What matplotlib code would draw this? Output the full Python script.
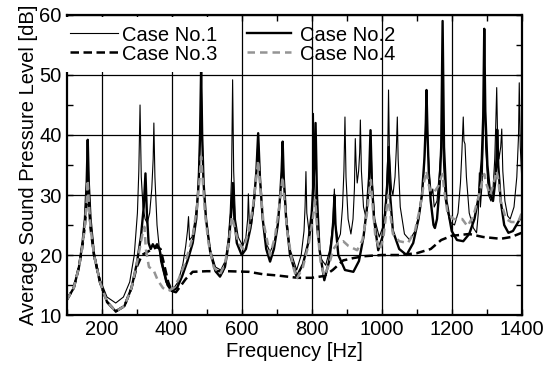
import matplotlib
matplotlib.use("Agg")
import matplotlib.pyplot as plt
from matplotlib.ticker import MultipleLocator

plt.rcParams["font.family"] = ["Liberation Sans", "DejaVu Sans"]

# (frequency [Hz], level [dB])
case1 = [
    (100, 12.5), (120, 14.5), (135, 18), (145, 22), (152, 26), (157, 32), (160, 39),
    (163, 32), (168, 26), (178, 20.5), (195, 16), (215, 13), (240, 12), (262, 13),
    (280, 15.5), (293, 20), (302, 27), (306, 34), (309.5, 45), (313, 33), (318, 28),
    (324, 26), (330, 25.3), (337, 27), (343, 31), (347, 36), (349, 42), (352, 33),
    (358, 25), (368, 19), (383, 15.5), (400, 14), (418, 15.5), (432, 18.5),
    (440, 21.5), (445, 24), (448, 26.4), (451, 22.5), (458, 23), (467, 26), (474, 30),
    (479, 36), (482, 42), (484, 50.5), (487, 40), (491, 32), (498, 26), (510, 21),
    (525, 18), (540, 17.5), (553, 19), (562, 23), (567, 27), (571, 33), (574, 49.2),
    (577, 34), (582, 26), (590, 23), (603, 21.5), (612, 23), (617, 26), (619, 30.2),
    (622, 25), (628, 25), (636, 29), (642, 34), (647, 40), (652, 33), (660, 26),
    (670, 22), (681, 20.5), (692, 22), (703, 25), (710, 30), (714, 34), (717, 38.7),
    (720, 33), (727, 27), (738, 21), (757, 17.5), (770, 20), (778, 24), (781, 28),
    (783.5, 33.9), (786, 27), (794, 23), (800, 25), (803, 30), (805, 43.6), (808, 32),
    (815, 24), (825, 19.5), (840, 18.3), (852, 21), (860, 25), (864.7, 31), (868, 25),
    (875, 22.5), (882, 23.5), (888, 28), (892, 34), (895, 43), (898, 33), (904, 26),
    (912, 23.5), (918, 26), (922, 31), (924.5, 39.4), (927, 35), (930, 32), (934, 34),
    (937, 37), (939, 42.5), (942, 34), (948, 28), (956, 26), (962, 30), (966, 35),
    (968.5, 40.8), (972, 33), (980, 26), (993, 23), (1005, 25), (1013, 30),
    (1017, 36), (1019.5, 47.5), (1022, 37), (1028, 31), (1032, 30), (1038, 33),
    (1042, 38), (1044.6, 43), (1047, 36), (1053, 28), (1065, 23.5), (1080, 22.5),
    (1095, 24), (1108, 27), (1118, 32), (1124, 38), (1128, 46.5), (1132, 38),
    (1137, 33), (1142, 30), (1146, 31), (1150, 28), (1158, 29), (1165, 34),
    (1170, 38), (1173, 42), (1176, 36), (1182, 29), (1195, 25.5), (1208, 25),
    (1218, 27), (1225, 32), (1229, 37), (1231, 40), (1233, 43), (1235, 39),
    (1238, 38.5), (1242, 33), (1250, 27), (1262, 24.5), (1271, 23.7), (1276, 27),
    (1279, 33.7), (1282, 28), (1287, 32), (1291, 42), (1293, 48), (1297, 38),
    (1305, 30), (1312, 29), (1318, 31), (1323, 36), (1326, 42), (1328.6, 47.9),
    (1331, 40), (1335, 36), (1340, 38), (1343, 41), (1346, 34), (1352, 29),
    (1360, 26.5), (1367, 26), (1378, 28), (1386, 33), (1391, 40), (1393, 48.7),
    (1396, 38), (1400, 33),
]

case2 = [
    (100, 12.5), (120, 14.5), (135, 18), (145, 22), (152, 26), (157, 32), (160, 39.2),
    (163, 32), (168, 26), (178, 20), (195, 15.5), (215, 12.2), (240, 10.6), (265, 11.5),
    (285, 14.5), (300, 18.5), (312, 23), (320, 28), (325, 33.6), (329, 27), (334, 22),
    (340, 21), (346, 21.8), (352, 21.2), (358, 21.8), (365, 21), (375, 18), (388, 15),
    (400, 14), (415, 14.5), (430, 16.5), (445, 19), (460, 22), (470, 26), (477, 32),
    (481, 40), (484, 51.1), (487, 40), (491, 32), (498, 26), (510, 20.5), (525, 17.3),
    (538, 16.4), (552, 18), (563, 22), (570, 27), (575, 32), (579, 26), (586, 22),
    (600, 20), (612, 21), (625, 24.5), (635, 29), (642, 34), (647, 40.3), (652, 33),
    (660, 26), (670, 21), (681, 18.9), (692, 21), (703, 25), (710, 30), (714, 34),
    (717, 38.9), (720, 33), (727, 26), (738, 20), (757, 16.4), (775, 18.5), (790, 22),
    (800, 27), (806, 33), (811, 42), (815, 30), (822, 21), (836, 15.8), (850, 19),
    (858, 23), (862, 26), (865, 30), (868, 25), (876, 20), (895, 17.5), (919, 17.2),
    (935, 19), (948, 23), (958, 28), (964, 33), (968, 40.8), (972, 32), (978, 26),
    (990, 20.8), (1002, 23), (1010, 27), (1016, 32), (1020, 38), (1024, 30),
    (1032, 24), (1050, 21), (1071, 20), (1090, 22), (1105, 26), (1115, 30),
    (1122, 36), (1126, 42), (1128, 47.5), (1131, 40), (1135, 33), (1140, 29),
    (1148, 25), (1152, 24.5), (1158, 26), (1165, 31), (1170, 38), (1174, 59),
    (1178, 38), (1185, 29), (1200, 24), (1215, 22.5), (1233, 22.3), (1250, 23.5),
    (1265, 26), (1278, 30), (1286, 36), (1290, 43), (1293, 57.7), (1296, 44),
    (1302, 35), (1310, 30), (1318, 29), (1324, 32), (1328, 36), (1330, 40.9),
    (1333, 35), (1340, 29), (1350, 25), (1362, 23.7), (1375, 24), (1390, 25.5),
    (1400, 26.5),
]

case3 = [
    (100, 12.5), (120, 14.5), (135, 18), (145, 21.5), (152, 25), (157, 29), (160, 32.5),
    (163, 29), (168, 24.5), (178, 20), (195, 15.5), (215, 12.2), (240, 10.6),
    (265, 11.5), (285, 14.5), (300, 18), (315, 20), (330, 20.5), (345, 21),
    (358, 21.3), (368, 21), (378, 18.5), (390, 15.5), (400, 14), (412, 13.8),
    (425, 14.8), (440, 16), (460, 17.2), (500, 17.3), (560, 17.3), (620, 17.2),
    (660, 16.8), (700, 16.6), (760, 16.2), (800, 16.2), (835, 16.5), (860, 17.5),
    (890, 19.1), (920, 19.5), (950, 19.8), (1000, 20), (1050, 20), (1100, 20.3),
    (1140, 21), (1170, 22.5), (1200, 23.2), (1250, 23.5), (1290, 23), (1340, 22.7),
    (1370, 23), (1400, 23.7),
]

case4 = [
    (100, 12.5), (120, 14.5), (135, 18), (145, 21.5), (152, 25), (157, 29), (160, 32.5),
    (163, 29), (168, 24.5), (178, 20), (195, 15.5), (215, 12.2), (240, 10.6),
    (265, 11.5), (285, 14.5), (300, 18.5), (310, 21.5), (318, 24), (322, 24.7),
    (326, 21), (335, 18), (348, 17.5), (360, 15.8), (375, 14.5), (390, 14),
    (405, 14.5), (420, 16), (440, 19), (460, 23), (472, 28), (480, 33), (484, 36.4),
    (488, 33), (495, 27), (505, 22), (520, 18), (538, 16.8), (552, 18.5), (563, 22),
    (572, 26.4), (578, 25), (590, 22), (605, 21), (620, 24), (632, 28), (642, 33),
    (647, 35.8), (652, 32), (662, 25.5), (681, 20), (695, 23), (707, 28), (714, 31.5),
    (717, 33), (720, 30.5), (730, 24), (745, 18.5), (757, 16), (775, 18), (792, 22),
    (803, 26), (810, 29.2), (815, 25), (825, 19), (836, 16.5), (850, 18.5), (862, 21),
    (875, 22), (890, 22.3), (905, 21.5), (930, 20.8), (945, 22.5), (958, 27),
    (965, 31), (969, 32.5), (973, 29), (982, 23), (995, 20.8), (1005, 23), (1013, 27),
    (1018, 30), (1022, 28), (1032, 23.5), (1050, 22.3), (1075, 22), (1095, 24),
    (1110, 28), (1122, 32.5), (1128, 34), (1133, 32), (1140, 30.5), (1150, 30.5),
    (1162, 31.5), (1170, 33), (1174, 33.5), (1178, 31), (1188, 27), (1205, 26),
    (1230, 26), (1245, 24.8), (1262, 26.5), (1278, 30), (1288, 32.5), (1293, 33.5),
    (1298, 32), (1310, 30), (1320, 32), (1328, 34), (1332, 33), (1340, 29),
    (1355, 26), (1370, 25.5), (1390, 25.5), (1400, 27),
]

labels = ["Case No.1", "Case No.2", "Case No.3", "Case No.4"]

fig = plt.figure(figsize=(5.46, 3.71), dpi=100)
ax = fig.add_axes([0.1222, 0.1509, 0.8333, 0.8087])

f, s = zip(*case1)
l1, = ax.plot(f, s, color="black", lw=0.8, label=labels[0])
f, s = zip(*case2)
l2, = ax.plot(f, s, color="black", lw=1.7, label=labels[1])
f, s = zip(*case3)
l3, = ax.plot(f, s, color="black", lw=1.8, ls=(0, (3.4, 1.8)), label=labels[2])
f, s = zip(*case4)
l4, = ax.plot(f, s, color="0.58", lw=1.8, ls=(0, (3.0, 2.0)), label=labels[3])

ax.set_xlim(100, 1400)
ax.set_ylim(10, 60)
ax.xaxis.set_major_locator(MultipleLocator(200))
ax.xaxis.set_minor_locator(MultipleLocator(100))
ax.yaxis.set_major_locator(MultipleLocator(10))
ax.yaxis.set_minor_locator(MultipleLocator(5))
ax.tick_params(which="both", direction="in", top=True, right=True,
               length=4.5, width=1, labelsize=14.5)
ax.grid(True, which="major", color="black", lw=0.9)
for sp in ax.spines.values():
    sp.set_linewidth(1.6)

ax.set_xlabel("Frequency [Hz]", fontsize=14.5, labelpad=2)
ax.set_ylabel("Average Sound Pressure Level [dB]", fontsize=14.5, labelpad=1)

leg1 = ax.legend([l1, l3], [labels[0], labels[2]], loc="upper left",
                 bbox_to_anchor=(0.0, 0.975), fontsize=14.5, frameon=True,
                 fancybox=False, edgecolor="none", framealpha=1,
                 borderaxespad=0.0, borderpad=0.15, handlelength=2.4,
                 handletextpad=0.2, labelspacing=0.0)
# the white box also hides the grid above the first column
leg1.get_frame().set_boxstyle("square", pad=0.25)
ax.add_artist(leg1)
ax.legend([l2, l4], [labels[1], labels[3]], loc="upper left",
          bbox_to_anchor=(0.39, 0.975), fontsize=14.5, frameon=False,
          borderaxespad=0.0, borderpad=0.15, handlelength=2.2,
          handletextpad=0.4, labelspacing=0.0)

fig.savefig("out.png", dpi=100)
